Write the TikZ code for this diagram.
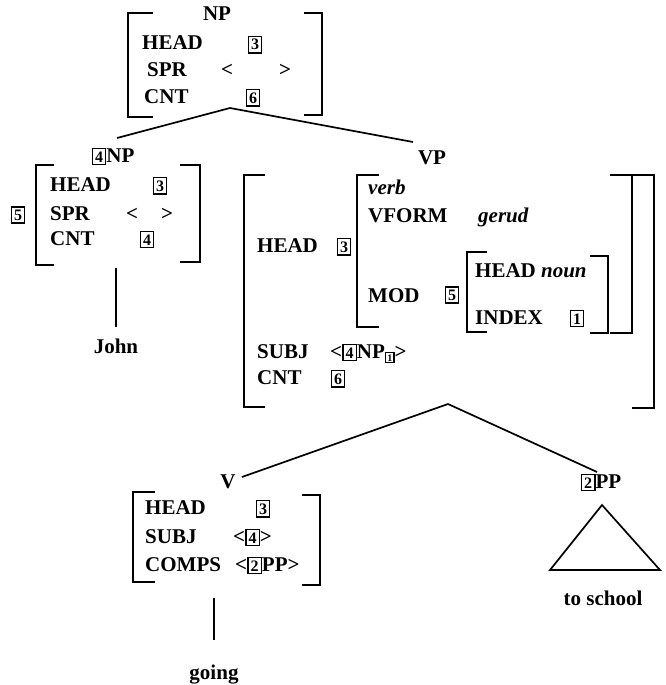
\documentclass[tikz,border=0pt]{standalone}
\usepackage{fontspec}
\setmainfont{Liberation Serif}
\newcommand{\fs}{\fontsize{21}{25}\selectfont\bfseries}
\newcommand{\bx}[1]{{\setlength{\fboxsep}{2pt}\setlength{\fboxrule}{1.4pt}\fbox{\fontsize{16}{16}\selectfont\bfseries #1}}}
\newcommand{\sbx}[1]{{\setlength{\fboxsep}{1.2pt}\setlength{\fboxrule}{1.1pt}\fbox{\fontsize{10}{10}\selectfont #1}}}
\newcommand{\brL}[4]{\draw[br] ({#1+#4},#2) -- (#1,#2) -- (#1,#3) -- ({#1+#4},#3);}
\newcommand{\brR}[4]{\draw[br] ({#1-#4},#2) -- (#1,#2) -- (#1,#3) -- ({#1-#4},#3);}
\begin{document}
\begin{tikzpicture}[x=1pt,y=-1pt,
  br/.style={line width=2pt},
  edge/.style={line width=1.7pt},
  lbl/.style={anchor=west,inner sep=0pt,text height=14pt,text depth=0pt,font=\fs},
  ctr/.style={anchor=center,inner sep=0pt,text height=14pt,text depth=0pt,font=\fs}]
\useasboundingbox (0,0) rectangle (665,685);
% ---------- top NP ----------
\node[ctr] (npT) at (217,14) {NP};
\node[lbl] (npThead) at (142,43) {HEAD};
\node[ctr] (npTb3) at (255,43) {\bx{3}};
\node[lbl] (npTspr) at (147,70) {SPR};
\node[ctr] (npTlt) at (227,70) {<};
\node[ctr] (npTgt) at (285,70) {>};
\node[lbl] (npTcnt) at (144,96) {CNT};
\node[ctr] (npTb6) at (253,96) {\bx{6}};
\brL{128}{13}{117}{25}
\brR{322}{13}{115}{18}
\coordinate (npTapex) at (230,108);
% ---------- subject NP ----------
\node[ctr] (np4) at (113,155) {\bx{4}NP};
\coordinate (np4top) at (117,138);
\node[ctr] (np4b5) at (18,213) {\bx{5}};
\brL{36}{165}{265}{18}
\brR{200}{165}{262}{20}
\node[lbl] (np4head) at (50,184) {HEAD};
\node[ctr] (np4b3) at (160,184) {\bx{3}};
\node[lbl] (np4spr) at (50,213) {SPR};
\node[ctr] (np4lt) at (132,213) {<};
\node[ctr] (np4gt) at (167,213) {>};
\node[lbl] (np4cnt) at (50,238) {CNT};
\node[ctr] (np4b4) at (147,238) {\bx{4}};
\coordinate (np4bot) at (116,268);
\coordinate (johntop) at (116,327);
\node[ctr] (john) at (116,346) {John};
% ---------- VP ----------
\node[ctr] (vp) at (432,157) {VP};
\coordinate (vptop) at (413,142);
\brL{244}{175}{407}{21}
\brR{654}{175}{408}{22}
\node[lbl] (vphead) at (257,245) {HEAD};
\node[ctr] (vpb3) at (344,245) {\bx{3}};
\brL{357}{175}{327}{22}
\node[lbl] (verb) at (368,187) {\textit{verb}};
\node[lbl] (vform) at (368,215) {VFORM};
\node[lbl] (gerud) at (478,215) {\textit{gerud}};
\node[lbl] (mod) at (368,295) {MOD};
\node[ctr] (modb5) at (452,293) {\bx{5}};
\brL{467}{252}{332}{20}
\node[lbl] (headnoun) at (475,270) {HEAD \textit{noun}};
\node[lbl] (index) at (475,317) {INDEX};
\node[ctr] (indexb1) at (577,317) {\bx{1}};
\brR{608}{256}{333}{18}
\brR{632}{175}{333}{22}
\node[lbl] (vpsubj) at (257,351) {SUBJ};
\node[lbl] (vpsubjv) at (330,351) {<\bx{4}NP\raisebox{-3pt}{\sbx{1}}>};
\node[lbl] (vpcnt) at (257,377) {CNT};
\node[ctr] (vpb6) at (338,377) {\bx{6}};
\coordinate (vpapex) at (448,404);
% ---------- V ----------
\node[ctr] (v) at (228,481) {V};
\coordinate (vtop) at (242,477);
\brL{133}{492}{582}{22}
\brR{320}{495}{585}{18}
\node[lbl] (vhead) at (145,507) {HEAD};
\node[ctr] (vb3) at (263,507) {\bx{3}};
\node[lbl] (vsubj) at (145,536) {SUBJ};
\node[lbl] (vsubjv) at (233,536) {<\bx{4}>};
\node[lbl] (vcomps) at (145,564) {COMPS};
\node[lbl] (vcompsv) at (235,564) {<\bx{2}PP>};
\coordinate (vbot) at (214,598);
\coordinate (goingtop) at (214,640);
\node[ctr] (going) at (214,672) {going};
% ---------- PP ----------
\node[ctr] (pp) at (601,481) {\bx{2}PP};
\coordinate (pptop) at (597,472);
\coordinate (tria) at (602,505);
\coordinate (trib) at (550,570);
\coordinate (tric) at (660,570);
\node[ctr] (school) at (603,598) {to school};
% ---------- tree lines ----------
\draw[edge] (npTapex) -- (np4top);
\draw[edge] (npTapex) -- (vptop);
\draw[edge] (np4bot) -- (johntop);
\draw[edge] (vpapex) -- (vtop);
\draw[edge] (vpapex) -- (pptop);
\draw[edge] (vbot) -- (goingtop);
\draw[edge,line join=miter] (tria) -- (trib) -- (tric) -- cycle;
\end{tikzpicture}
\end{document}
